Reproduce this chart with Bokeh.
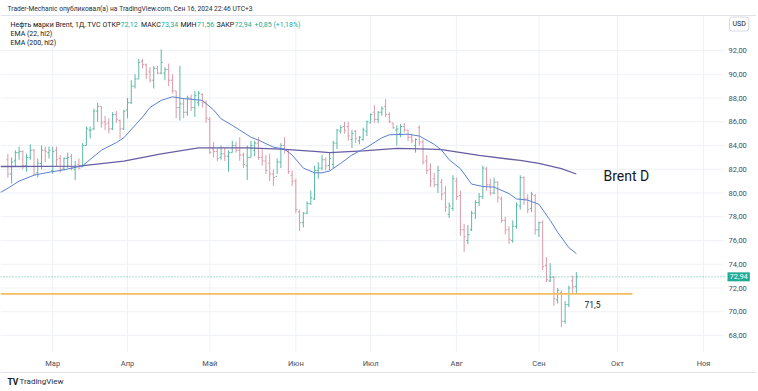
import pandas as pd
from bokeh.plotting import figure
from bokeh.models import ColumnDataSource, Range1d, Label
from bokeh.core.properties import value
from bokeh.embed import file_html
from bokeh.resources import INLINE

# ---------------- data: TVC Brent, daily bars 14 Feb 2024 - 16 Sep 2024 ----------------
opens = [82.8, 81.6, 82.7, 83.4, 83.5, 82.3, 83.0, 83.6, 81.7, 82.5, 83.6, 83.4,
         81.9, 83.6, 82.9, 82.1, 82.9, 83.1, 82.0, 82.4, 82.2, 84.0, 85.3, 85.4, 86.9, 87.3, 86.0, 85.9, 85.4, 86.6, 86.1, 85.4,
         87.0, 87.6, 89.0, 89.6, 91.1, 90.8, 90.2, 89.5, 90.5, 90.1, 90.1, 90.4, 89.5, 88.6, 87.2, 87.5, 86.8, 88.0, 87.2, 87.6, 88.3, 87.6,
         86.2, 83.7, 83.5, 83.0, 83.3, 83.1, 83.4, 84.0, 83.6, 83.2, 82.3, 83.0, 83.6, 84.2, 83.0, 82.7, 82.5, 81.6, 81.4, 82.6, 84.0, 83.5, 81.5,
         81.0, 78.4, 77.5, 78.3, 79.1, 79.5, 81.9, 82.1, 82.8, 82.3, 82.4, 84.2, 85.2, 85.6, 85.6, 84.5, 85.2, 84.4, 84.5, 85.2,
         85.9, 86.8, 86.2, 86.8, 87.3, 86.6, 85.9, 85.3, 85.0, 85.6, 85.3, 84.7, 84.0, 85.5, 84.3, 82.7, 82.0, 81.2, 80.7, 80.9, 80.0, 78.2, 78.7,
         81.0, 79.8, 76.9, 76.0, 76.9, 78.3, 79.2, 79.7, 82.0, 80.7, 80.0, 80.9, 79.5, 77.7, 76.9, 76.0, 77.2, 78.9, 81.3, 79.5, 78.7, 79.8,
         76.9, 77.5, 73.9, 72.6, 72.9, 71.0, 71.6, 69.2, 70.6, 72.6, 72.12]
highs = [83.3, 83.0, 83.6, 83.9, 83.6, 83.3, 84.1, 83.7, 82.9, 84.0, 83.9, 83.9,
         83.9, 83.9, 83.2, 83.0, 83.4, 83.3, 82.7, 82.9, 84.2, 85.6, 85.6, 87.1, 87.6, 87.3, 86.5, 86.3, 86.8, 86.9, 86.2, 87.0,
         88.0, 89.5, 90.0, 91.3, 91.3, 90.9, 90.6, 90.7, 90.7, 92.1, 90.6, 90.9, 90.0, 88.6, 90.7, 88.0, 88.2, 88.3, 88.6, 88.6, 88.4, 87.8,
         86.4, 84.3, 83.8, 84.0, 83.8, 83.6, 84.4, 84.3, 84.7, 83.4, 84.0, 84.4, 84.4, 84.7, 83.7, 83.2, 83.3, 82.0, 82.9, 84.2, 84.7, 83.6, 81.9,
         81.2, 78.6, 78.4, 79.3, 80.2, 82.3, 82.6, 83.2, 83.0, 83.4, 84.4, 85.4, 85.7, 86.0, 86.0, 85.3, 85.3, 84.8, 85.5, 86.1,
         86.7, 87.4, 86.9, 87.3, 87.9, 86.8, 85.9, 85.7, 85.8, 85.9, 85.3, 85.0, 84.6, 85.7, 84.5, 83.2, 82.5, 81.7, 82.3, 81.2, 80.6, 79.2, 81.5,
         81.3, 80.2, 77.4, 77.3, 78.5, 79.4, 80.0, 82.3, 82.2, 81.2, 81.3, 81.0, 79.7, 78.0, 77.2, 77.7, 79.2, 81.5, 81.4, 79.9, 80.1, 79.9,
         77.6, 77.7, 74.6, 74.1, 73.0, 72.0, 71.8, 70.9, 72.2, 73.05, 73.34]
lows = [81.3, 80.8, 82.2, 82.8, 82.0, 81.8, 82.8, 81.5, 81.3, 82.0, 82.6, 82.9,
        81.6, 82.2, 81.7, 81.9, 82.1, 81.9, 81.1, 82.0, 82.2, 84.0, 84.6, 85.3, 86.0, 85.5, 85.3, 85.0, 85.3, 85.9, 84.6, 85.3,
        86.3, 87.5, 88.8, 89.6, 90.5, 89.6, 89.3, 88.8, 90.0, 90.0, 89.5, 89.0, 88.4, 86.3, 86.1, 86.3, 86.5, 86.9, 86.4, 87.3, 87.2, 85.9,
        83.3, 83.0, 82.7, 82.8, 82.7, 81.8, 83.4, 83.4, 82.7, 82.1, 81.1, 83.0, 83.1, 82.8, 82.3, 81.6, 81.0, 80.6, 81.6, 82.1, 83.3, 81.6, 80.6,
        78.3, 76.8, 77.1, 78.2, 79.0, 79.4, 81.2, 81.9, 81.9, 81.9, 82.1, 83.7, 85.0, 85.0, 84.4, 83.8, 84.2, 84.1, 84.4, 84.8,
        85.9, 85.9, 85.9, 86.5, 86.4, 85.9, 85.4, 84.0, 84.7, 85.1, 84.4, 84.2, 83.4, 84.0, 82.4, 81.6, 80.5, 80.5, 80.0, 79.4, 78.4, 77.9, 78.5,
        79.4, 76.4, 75.05, 75.7, 76.8, 77.8, 78.9, 79.5, 80.2, 79.8, 79.9, 79.2, 77.5, 76.5, 75.7, 75.8, 77.0, 78.6, 79.0, 78.3, 78.4, 76.5,
        76.3, 73.5, 72.5, 72.5, 70.5, 70.7, 68.7, 69.0, 70.4, 71.5, 71.56]
closes = [81.6, 82.6, 83.4, 83.5, 82.3, 83.0, 83.6, 81.6, 82.5, 83.6, 83.5, 83.6,
          83.5, 82.8, 82.0, 82.9, 83.0, 82.1, 82.2, 82.1, 84.0, 85.4, 85.3, 86.9, 87.3, 85.9, 85.8, 85.4, 86.6, 86.2, 85.4, 86.9,
          87.6, 89.0, 89.6, 91.0, 90.8, 90.0, 89.5, 90.5, 90.1, 91.0, 90.4, 89.5, 88.6, 87.2, 87.5, 86.8, 88.0, 87.2, 88.2, 88.4, 87.6, 86.3,
          83.4, 83.5, 82.9, 83.3, 83.1, 83.4, 84.0, 83.6, 83.2, 82.4, 83.0, 84.0, 84.2, 83.0, 82.7, 81.9, 81.6, 81.3, 82.6, 84.0, 83.6, 81.8, 81.0,
          78.6, 77.5, 78.3, 79.1, 79.6, 81.9, 82.1, 82.8, 82.3, 82.9, 84.2, 85.3, 85.5, 85.3, 84.8, 85.0, 84.6, 84.7, 85.3, 86.0,
          86.6, 86.2, 86.8, 87.1, 86.6, 86.0, 85.5, 85.4, 85.6, 85.3, 84.7, 84.4, 84.5, 84.3, 82.6, 81.9, 81.0, 80.7, 81.9, 79.9, 78.8, 78.9, 81.2,
          79.7, 76.9, 76.3, 76.5, 78.3, 79.2, 79.7, 82.1, 80.7, 80.0, 80.9, 79.6, 77.7, 76.9, 76.1, 77.2, 79.0, 81.3, 79.5, 78.6, 79.9, 76.9,
          77.5, 73.8, 72.7, 72.9, 71.1, 71.8, 69.2, 70.6, 72.0, 72.09, 72.94]

# EMA (22, hl2) and EMA (200, hl2) at these bar numbers (bar 0 = 14 Feb)
ema22_bar = [-2, 0, 3, 7, 11, 15, 20, 25, 29, 31, 34, 36, 38, 41, 44, 47, 52, 55, 57, 60, 62, 65, 67, 71, 74, 76,
             79, 82, 84, 86, 89, 92, 96, 100, 102, 107, 110, 114, 116, 118, 121, 124, 127, 130, 134, 136, 139,
             142, 145, 147, 150, 152]
ema22 = [80.04, 80.4, 81.0, 81.5, 81.75, 81.95, 82.3, 83.6, 84.25, 84.65, 85.7, 86.4, 87.2, 87.8, 88.1, 87.95, 87.8,
         87.0, 86.25, 85.7, 85.3, 84.7, 84.45, 83.86, 83.7, 83.2, 82.1, 81.7, 81.7, 81.85, 82.5, 83.2, 83.85,
         84.65, 84.9, 84.95, 84.8, 84.1, 83.6, 82.8, 82.05, 80.75, 80.55, 80.5, 79.95, 79.5, 79.4, 79.05, 77.7,
         76.7, 75.4, 74.9]
ema200_bar = [-2, 0, 19, 31, 41, 51, 60, 64, 73, 82, 86, 95, 104, 113, 116, 126, 137, 142, 148, 152]
ema200 = [82.23, 82.23, 82.26, 82.68, 83.3, 83.8, 83.8, 83.8, 83.7, 83.5, 83.4, 83.55, 83.75, 83.7, 83.65, 83.16,
          82.74, 82.5, 82.05, 81.6]

support_level = 71.5
price_ticks = [68, 70, 72, 74, 76, 78, 80, 82, 84, 86, 88, 90, 92]
month_labels = ["Мар", "Апр", "Май", "Июн", "Июл", "Авг", "Сен", "Окт", "Ноя"]
month_numbers = [3, 4, 5, 6, 7, 8, 9, 10, 11]
legend_open, legend_high, legend_low, legend_close = "72,12", "73,34", "71,56", "72,94"
legend_change = "+0,85 (+1,18%)"

# trading calendar (weekdays, ICE closed on Good Friday)
dates = pd.bdate_range("2024-02-14", "2024-11-29")
dates = dates[dates != pd.Timestamp("2024-03-29")]
month_ticks = [int(next(i for i, d in enumerate(dates) if d.month == m)) for m in month_numbers]

# ---------------- layout helpers (canvas pixels -> data) ----------------
W, H = 756, 389
PX_BAR, X0 = 3.74, 7.36          # canvas x of bar 0, pixels per bar
Y92, PX_UNIT = 50.0, 11.875      # canvas y of price 92, pixels per 1 USD
def gx(px):
    return (px - X0) / PX_BAR
def py(px):
    return 92 - (px - Y92) / PX_UNIT

FONT = "Roboto"
TXT = "#131722"
AXT = "#4a4e59"
GREEN = "#22ab94"
UP, DOWN = "#5cb9a6", "#db9aa8"
GRID = "#eef1f6"
PLOT_R, PLOT_T, PLOT_B = 723, 15, 352

p = figure(width=W, height=H, x_range=Range1d(gx(0), gx(W)), y_range=Range1d(py(H), py(0)),
           x_axis_location=None, y_axis_location=None, output_backend="svg", toolbar_location=None,
           min_border_left=0, min_border_right=0, min_border_top=0, min_border_bottom=0)
p.outline_line_color = None
p.background_fill_color = "white"
p.border_fill_color = "white"
for g in p.grid:
    g.visible = False

# grid lines of the price pane
p.segment(x0=[gx(0)] * len(price_ticks), y0=price_ticks, x1=[gx(PLOT_R)] * len(price_ticks), y1=price_ticks,
          line_color=GRID, line_width=1)
p.segment(x0=month_ticks, y0=[py(PLOT_T)] * len(month_ticks), x1=month_ticks, y1=[py(PLOT_B)] * len(month_ticks),
          line_color=GRID, line_width=1)
# pane borders
p.segment(x0=[gx(0), gx(0)], y0=[py(PLOT_T), py(372)], x1=[gx(W), gx(W)], y1=[py(PLOT_T), py(372)],
          line_color="#e0e3eb", line_width=1)

# price scale labels
p.text(x=[gx(728)] * len(price_ticks), y=price_ticks, text=[f"{t},00" for t in price_ticks],
       text_font=value(FONT), text_font_size="7.5px", text_color=AXT, text_baseline="middle", text_align="left")
# time scale labels
p.text(x=month_ticks, y=[py(363)] * len(month_ticks), text=month_labels,
       text_font=value(FONT), text_font_size="7.5px", text_color=AXT, text_baseline="middle", text_align="center")

# OHLC bars
idx = list(range(len(closes)))
colors = [UP if c >= o else DOWN for o, c in zip(opens, closes)]
src = ColumnDataSource(dict(x=idx, xl=[i - 0.42 for i in idx], xr=[i + 0.42 for i in idx],
                            o=opens, h=highs, l=lows, c=closes, col=colors))
p.segment(x0="x", y0="l", x1="x", y1="h", line_color="col", line_width=1, source=src)
p.segment(x0="xl", y0="o", x1="x", y1="o", line_color="col", line_width=1, source=src)
p.segment(x0="x", y0="c", x1="xr", y1="c", line_color="col", line_width=1, source=src)

# EMAs
p.line(ema200_bar, ema200, line_color="#675fa3", line_width=1.3)
p.line(ema22_bar, ema22, line_color="#5a80d0", line_width=1)

# last price line and support level
p.line([gx(0), gx(724)], [closes[-1], closes[-1]], line_color=GREEN, line_width=1, line_dash="1 2", line_alpha=0.8)
p.line([gx(0), gx(632)], [support_level, support_level], line_color="#f5bd5a", line_width=1.8)

def lab(x, y, text, size="7px", color=TXT, **kw):
    p.add_layout(Label(x=x, y=y, text=text, text_font=FONT, text_font_size=size, text_color=color,
                       text_baseline="middle", **kw))

# header and legend
lab(gx(7), py(8), "Trader-Mechanic опубликовал(а) на TradingView.com, Сен 16, 2024 22:46 UTC+3",
    size="6.7px", color="#2a2e39")
lab(gx(10), py(24), "Нефть марки Brent, 1Д, TVC")
lab(gx(102), py(24), "ОТКР")
lab(gx(120), py(24), legend_open, color=GREEN)
lab(gx(140.5), py(24), "МАКС")
lab(gx(160.5), py(24), legend_high, color=GREEN)
lab(gx(180), py(24), "МИН")
lab(gx(196.5), py(24), legend_low, color=GREEN)
lab(gx(216), py(24), "ЗАКР")
lab(gx(234), py(24), legend_close, color=GREEN)
lab(gx(254), py(24), legend_change, color=GREEN)
lab(gx(10), py(33), "EMA (22, hl2)")
lab(gx(10), py(42), "EMA (200, hl2)")

# annotations on chart
lab(gx(603), py(175), "Brent D", size="14px")
lab(gx(584), py(304), f"{support_level:.1f}".replace(".", ","), size="8.5px")

# price scale boxes
lab(gx(729), py(23.5), "USD", size="7px", background_fill_color="white", border_line_color="#d6d9e0",
    padding=3, border_radius=3)
lab(gx(727), closes[-1], f"{closes[-1]:.2f}".replace(".", ","), size="7.5px", color="white",
    background_fill_color=GREEN, padding=2)

# footer logo
lab(gx(7), py(381), "TV", size="8.5px", text_font_style="bold")
lab(gx(19), py(381), "TradingView", size="8px", color="#2a2e39")

open("out.html", "w").write(file_html(p, INLINE))
